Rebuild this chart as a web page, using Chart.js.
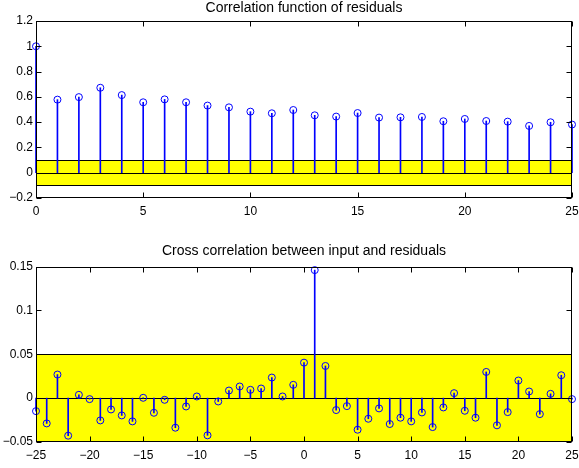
<!DOCTYPE html>
<html>
<head>
<meta charset="utf-8">
<script src="https://cdn.jsdelivr.net/npm/chart.js@4.4.1/dist/chart.umd.min.js"></script>
<style>
  body { margin: 0; background: #fff; }
  .wrap { position: relative; width: 579px; height: 468px; }
  canvas { position: absolute; left: 0; }
</style>
</head>
<body>
<div class="wrap">
  <canvas id="acfChart" width="579" height="234" style="top:0"></canvas>
  <canvas id="xcfChart" width="579" height="234" style="top:234px"></canvas>
</div>
<script>
// autocorrelation of residuals
const acfLags = [0, 1, 2, 3, 4, 5, 6, 7, 8, 9, 10, 11, 12, 13, 14, 15, 16, 17, 18, 19, 20, 21, 22, 23, 24, 25];
const acfValues = [1.0, 0.578, 0.598, 0.672, 0.614, 0.557, 0.580, 0.557, 0.531, 0.517, 0.483, 0.470, 0.496,
  0.454, 0.444, 0.472, 0.436, 0.438, 0.441, 0.407, 0.425, 0.409, 0.404, 0.370, 0.399, 0.381];
const acfBound = 0.1;

// cross correlation input / residuals
const xcfLags = [-25, -24, -23, -22, -21, -20, -19, -18, -17, -16, -15, -14, -13, -12, -11, -10, -9, -8, -7, -6, -5, -4, -3, -2, -1,
  0, 1, 2, 3, 4, 5, 6, 7, 8, 9, 10, 11, 12, 13, 14, 15, 16, 17, 18, 19, 20, 21, 22, 23, 24, 25];
const xcfValues = [-0.0148, -0.0288, 0.0269, -0.0428, 0.0038, -0.0011, -0.0254, -0.0129, -0.0197, -0.0265,
  0.0004, -0.0167, -0.0019, -0.0337, -0.0095, 0.0019, -0.0424, -0.0038, 0.0087, 0.0133,
  0.0095, 0.0110, 0.0235, 0.0019, 0.0152,
  0.0405, 0.146, 0.0367, -0.0136, -0.0091, -0.0360, -0.0235, -0.0117, -0.0295, -0.0223,
  -0.0265, -0.0163, -0.0330, -0.0106, 0.0057, -0.0144, -0.0223, 0.0299, -0.0310, -0.0159,
  0.0201, 0.0076, -0.0182, 0.0049, 0.0261, -0.0011];
const xcfBound = 0.05;

const FONT = '"Liberation Sans", Arial, Helvetica, sans-serif';

function fmtTick(v) {
  const n = Math.round(v * 1000) / 1000;
  return String(n).replace('-', '\u2212');
}

// yellow confidence band + horizontal lines at +-bound and 0
const bandPlugin = {
  id: 'band',
  beforeDatasetsDraw(chart, args, opts) {
    const { ctx, chartArea: a, scales: { y } } = chart;
    const yt = y.getPixelForValue(opts.bound);
    const yb = Math.min(y.getPixelForValue(-opts.bound), a.bottom);
    ctx.save();
    ctx.fillStyle = '#ffff00';
    ctx.fillRect(a.left, yt, a.right - a.left, yb - yt);
    ctx.strokeStyle = '#000';
    ctx.lineWidth = 1;
    [opts.bound, 0, -opts.bound].forEach(v => {
      const py = Math.round(y.getPixelForValue(v)) + 0.5;
      if (py > a.bottom) return;
      ctx.beginPath();
      ctx.moveTo(a.left, py);
      ctx.lineTo(a.right, py);
      ctx.stroke();
    });
    ctx.restore();
  }
};

// matlab style box with inward ticks on all sides
const boxPlugin = {
  id: 'box',
  afterDraw(chart) {
    const { ctx, chartArea: a, scales: { x, y } } = chart;
    const len = 5;
    ctx.save();
    ctx.strokeStyle = '#000';
    ctx.lineWidth = 1;
    const L = Math.round(a.left) + 0.5, R = Math.round(a.right) - 0.5;
    const T = Math.round(a.top) + 0.5, B = Math.round(a.bottom) - 0.5;
    ctx.strokeRect(L, T, R - L, B - T);
    ctx.beginPath();
    x.ticks.forEach(t => {
      const px = Math.round(x.getPixelForValue(t.value)) + 0.5;
      ctx.moveTo(px, B); ctx.lineTo(px, B - len);
      ctx.moveTo(px, T); ctx.lineTo(px, T + len);
    });
    y.ticks.forEach(t => {
      const py = Math.round(y.getPixelForValue(t.value)) + 0.5;
      ctx.moveTo(L, py); ctx.lineTo(L + len, py);
      ctx.moveTo(R, py); ctx.lineTo(R - len, py);
    });
    ctx.stroke();
    ctx.restore();
  }
};

function makeStemChart(id, cfg) {
  const stems = cfg.lags.map((l, i) => ({ x: l, y: [0, cfg.values[i]] }));
  const marks = cfg.lags.map((l, i) => ({ x: l, y: cfg.values[i] }));
  return new Chart(document.getElementById(id), {
    type: 'bar',
    data: {
      datasets: [
        {
          type: 'bar',
          data: stems,
          backgroundColor: '#0000ff',
          borderWidth: 0,
          barThickness: 1,
          grouped: false,
          clip: false
        },
        {
          type: 'line',
          data: marks,
          showLine: false,
          pointStyle: 'circle',
          pointRadius: 3.5,
          pointBorderWidth: 1,
          pointBorderColor: '#0000ff',
          pointBackgroundColor: 'rgba(0,0,0,0)',
          clip: false
        }
      ]
    },
    options: {
      responsive: false,
      animation: false,
      devicePixelRatio: 1,
      layout: { padding: { left: 0, right: 7, top: 0, bottom: 0 } },
      plugins: {
        legend: { display: false },
        tooltip: { enabled: false },
        title: {
          display: true,
          text: cfg.title,
          fullSize: false,
          color: '#000',
          font: { family: FONT, size: 14, weight: 'normal', lineHeight: 1.2 },
          padding: cfg.titlePad
        },
        band: { bound: cfg.bound }
      },
      scales: {
        x: {
          type: 'linear',
          min: cfg.xMin, max: cfg.xMax,
          offset: false,
          grid: { display: false, drawTicks: false },
          border: { display: false },
          afterFit: s => { s.height = cfg.xHeight; s.paddingLeft = 0; s.paddingRight = 0; },
          ticks: {
            stepSize: 5, autoSkip: false, maxRotation: 0, padding: 6,
            color: '#000', font: { family: FONT, size: 12 },
            callback: v => fmtTick(v)
          }
        },
        y: {
          min: cfg.yMin, max: cfg.yMax,
          grid: { display: false, drawTicks: false },
          border: { display: false },
          afterFit: s => { s.width = 36; s.paddingTop = 0; s.paddingBottom = 0; },
          ticks: {
            stepSize: cfg.yStep, padding: 3,
            color: '#000', font: { family: FONT, size: 12 },
            callback: v => fmtTick(v)
          }
        }
      }
    },
    plugins: [bandPlugin, boxPlugin]
  });
}

makeStemChart('acfChart', {
  lags: acfLags, values: acfValues, bound: acfBound,
  title: 'Correlation function of residuals',
  titlePad: { top: 0, bottom: 4.2 },
  xMin: 0, xMax: 25, yMin: -0.2, yMax: 1.2, yStep: 0.2, xHeight: 36
});

makeStemChart('xcfChart', {
  lags: xcfLags, values: xcfValues, bound: xcfBound,
  title: 'Cross correlation between input and residuals',
  titlePad: { top: 8.6, bottom: 7.2 },
  xMin: -25, xMax: 25, yMin: -0.05, yMax: 0.15, yStep: 0.05, xHeight: 26
});
</script>
</body>
</html>
